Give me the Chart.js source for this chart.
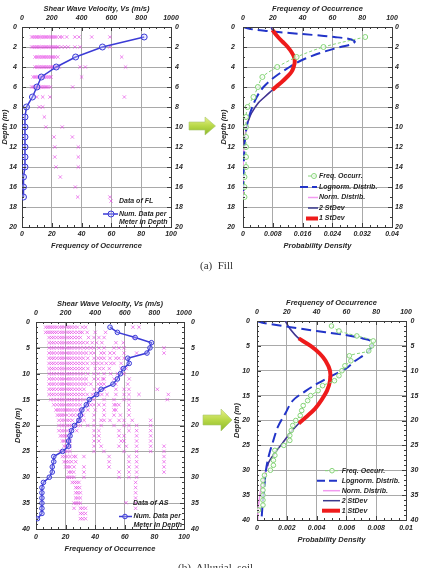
<!DOCTYPE html>
<html>
<head>
<meta charset="utf-8">
<script src="https://cdn.jsdelivr.net/npm/chart.js"></script>
<style>
html,body{margin:0;padding:0;background:#fff;width:421px;height:568px;overflow:hidden;position:relative}
canvas{position:absolute}
.cap{position:absolute;font-family:"Liberation Serif","DejaVu Serif",serif;font-size:11px;line-height:12px;color:#333;white-space:pre}
svg{position:absolute;left:0;top:0}
</style>
</head>
<body>
<canvas id="c1" width="200" height="260" style="left:0;top:0"></canvas>
<canvas id="c2" width="221" height="260" style="left:200px;top:0"></canvas>
<canvas id="c3" width="200" height="278" style="left:0;top:280px"></canvas>
<canvas id="c4" width="221" height="278" style="left:200px;top:280px"></canvas>
<svg width="421" height="568">
  <defs>
    <linearGradient id="ag" x1="0" y1="0" x2="0" y2="1">
      <stop offset="0" stop-color="#e8f08a"/>
      <stop offset="0.5" stop-color="#b8d848"/>
      <stop offset="1" stop-color="#8cb828"/>
    </linearGradient>
  </defs>
  <polygon points="189,122 205,122 205,117 215.5,126 205,135 205,130 189,130" fill="url(#ag)" stroke="#a8c870" stroke-width="0.6"/>
  <polygon points="203,415 221,415 221,409 232,420 221,431 221,425 203,425" fill="url(#ag)" stroke="#a8c870" stroke-width="0.6"/>
</svg>
<div class="cap" style="left:200px;top:259px">(a)  Fill</div>
<div class="cap" style="left:178px;top:561px">(b)  Alluvial  soil</div>
<script>
// ---------------- DATA ----------------
// (a) Fill
const fillDepths = [1,2,3,4,5,6,7,8,9,10,11,12,13,14,15,16,17];
const fillFreq   = [82,54,36,23,13,10,7,3,2,2,2,2,2,2,1,1,1];
const fillVs = [
  [65,77,89,101,113,125,137,149,161,173,185,197,209,221,233,255,270,300,355,383,468,590],
  [65,77,89,101,113,125,137,149,161,173,185,197,209,221,233,243,265,288,310,355,390,590],
  [88,100,112,124,136,148,160,172,184,196,208,222,240,669],
  [88,100,112,124,136,148,160,172,184,196,208,220,233,250,390,425,695],
  [75,87,99,111,123,135,147,159,171,183,195,400],
  [65,77,89,101,113,125,137,149,161,173,190,340],
  [99,139,188,687],
  [116,139],
  [150],
  [160,270],
  [215,338],
  [220,378],
  [220,378],
  [228,378],
  [257],
  [358],
  [374,590]
];
const fillLogDepth = [0,0.2,0.4,0.6,0.8,1.0,1.2,1.45,1.7,2,2.5,3,3.5,4,5,6,7,8,9,10,11,12,14,17];
const fillLogPD    = [0,0.002,0.0065,0.0125,0.019,0.0245,0.0285,0.030,0.0293,0.0262,0.0215,0.0178,0.0148,0.0125,0.0085,0.0055,0.0037,0.0025,0.0016,0.001,0.0006,0.0004,0.0002,0.0001];
const fillNormDepth = [0,0.3,1,1.5,2,2.5,3,3.5,4,4.5,5,5.5,6,6.3,7,7.6,8.6,9.5,10.1,11,12,13,15,17];
const fillNormPD    = [0.0075,0.0079,0.0094,0.0107,0.012,0.013,0.0137,0.0139,0.0136,0.013,0.0118,0.0104,0.0088,0.0079,0.0058,0.0041,0.0023,0.0013,0.0009,0.0005,0.0003,0.0001,0.00003,0];
const fill1SdRange = [0.3, 6.3];
const fill2SdRange = [0, 9.5];

// (b) Alluvial soil
const alluvialDepths = [1,2,3,4,5,6,7,8,9,10,11,12,13,14,15,16,17,18,19,20,21,22,23,24,25,26,27,28,29,30,31,32,33,34,35,36,37,38];
const alluvialFreq   = [50,55,67,78,77,75,62,63,59,57,55,52,44,41,36,34,31,30,29,26,24,23,22,22,18,12,12,11,11,9,5,4,4,4,4,4,4,1];
const alluvialVs = [
  [65,80,95,110,125,140,160,175,190,210,225,240,260,280,313,336,655,696],
  [65,80,95,110,125,140,160,175,190,210,225,240,260,280,300,313,346,400,470],
  [88,105,120,140,160,175,190,210,225,240,260,280,300,355,392,425,460,662],
  [88,105,120,140,160,175,190,210,225,240,260,280,300,320,346,380,410,445,540,590],
  [88,105,120,140,160,175,190,210,225,240,260,280,300,324,346,370,392,425,460,527,560,595,865],
  [88,105,120,140,160,175,190,210,225,240,260,280,300,320,340,370,392,440,460,500,527,595,680,865],
  [88,105,120,140,160,175,190,210,225,240,260,280,300,320,350,392,420,440,460,500,540,560,595],
  [88,105,120,140,160,175,190,210,225,240,260,280,300,320,346,380,400,420,445,475,505,527,575],
  [88,105,120,140,160,175,190,210,225,240,260,280,300,320,350,400,430,455,495,575,610],
  [88,105,120,140,160,175,190,210,225,240,260,280,300,320,350,392,420,460,505,550,595],
  [88,105,120,140,160,175,190,210,225,240,260,280,300,320,340,392,420,450,460,527,630],
  [88,105,120,140,160,175,190,210,225,240,260,280,300,320,340,370,420,440,460,540,620],
  [88,105,120,140,160,175,190,210,225,240,260,280,300,324,392,425,460,540,595,628,820],
  [88,105,120,140,160,175,190,210,225,240,260,280,300,320,346,380,400,420,445,480,540,595,628,696,894],
  [100,120,140,160,175,190,210,225,240,260,280,300,324,392,460,527,595,628,887],
  [120,140,160,175,190,210,225,240,260,280,300,350,370,392,425,460,527,540,560,628],
  [135,150,165,180,195,210,225,240,260,280,300,350,400,460,527,540,628],
  [145,160,175,190,210,235,255,280,300,320,392,460,527,570,628],
  [155,175,190,210,225,245,285,300,325,392,440,460,500,561,595,650,775],
  [155,175,190,210,225,242,275,300,350,392,440,527,595,628,680,775],
  [155,175,190,210,230,275,392,425,561,628,680,775],
  [165,180,195,210,230,392,425,561,595,680,775],
  [178,190,210,230,392,425,575,595,680,775],
  [190,205,230,392,440,561,610,680,775,865],
  [165,180,195,210,230,392,459,595,680,775,865],
  [178,195,210,230,255,268,324,494,628,680,865],
  [190,205,220,240,268,494,628,680,865],
  [200,215,230,257,324,494,628,680,865],
  [222,237,255,324,561,628,680,865],
  [210,225,240,257,324,561,628,680],
  [245,260,275,290,673],
  [268,280,295,673],
  [268,282,300,673],
  [268,282,300,673],
  [257,270,285,300,673],
  [257,300,315,335,673],
  [300,315,335],
  [300,315,335]
];
const alluvialLogDepth = [0,0.3,0.6,1,1.5,2,2.5,3,3.5,4.1,5,6,7,8,9.5,11.2,12.5,14,16,18.6,21.3,24,27,30,33,36,40];
const alluvialLogPD    = [0,0.0003,0.0009,0.0017,0.0028,0.0040,0.0052,0.0063,0.0071,0.0077,0.0077,0.0075,0.0071,0.0066,0.0060,0.0049,0.0041,0.0033,0.0024,0.0019,0.0014,0.0011,0.0008,0.0006,0.0005,0.0004,0.0003];
const alluvialNormDepth = [0,1.5,3.5,5,6.5,8,10,12,14,16,17.6,19.3,20.6,22.6,24.6,26.5,28.3,29.2,31,33,35,37,40];
const alluvialNormPD    = [0.0019,0.0022,0.0028,0.0036,0.0042,0.0046,0.0049,0.0049,0.0047,0.0043,0.0039,0.0033,0.0028,0.0022,0.0017,0.0012,0.0008,0.0007,0.0005,0.0003,0.0002,0.0001,0.00005];
const alluvial1SdRange = [3.5, 20.6];
const alluvial2SdRange = [0, 29.2];

// tick labels
const velTicks = [0,200,400,600,800,1000];
const freqTicks = [0,20,40,60,80,100];
const fillPdTicks = [0,0.008,0.016,0.024,0.032,0.04];
const alluvialPdTicks = [0,0.002,0.004,0.006,0.008,0.01];
const fillDepthTicks = [0,2,4,6,8,10,12,14,16,18,20];
const alluvialDepthTicks = [0,5,10,15,20,25,30,35,40];

// ---------------- STYLE / HELPERS ----------------
const FAM = '"Liberation Sans", Arial, sans-serif';
const tickFont = {family:FAM, size:7, style:'italic', weight:'bold'};
const titleFont = {family:FAM, size:7.5, style:'italic', weight:'bold'};
const TXT = '#262626';
const BLUE = '#3b3bd6';
const MAG = 'rgba(228,60,228,0.6)';
const GREEN = '#86d478';
const LOGN = '#2234c8';
const NORM = '#f29af0';
const SD2 = '#3a3a8e';
const SD1 = '#ee1b1b';

function fmt(v){ return String(parseFloat(Number(v).toPrecision(6))); }

function axis(pos, min, max, ticks, size, pad, grid, title, tpad, reverse){
  return {
    type:'linear', position:pos, min:min, max:max, reverse:!!reverse,
    afterBuildTicks: s => { s.ticks = ticks.map(v => ({value:v})); },
    afterFit: s => { if (pos === 'top' || pos === 'bottom') s.height = size; else s.width = size; },
    grid:{display:grid, drawTicks:false, color:'#a9a9a9', lineWidth:1},
    border:{display:true, color:'#3c3c3c', width:1},
    ticks:{padding:pad, font:tickFont, color:TXT, autoSkip:false, maxRotation:0, minRotation:0, callback:v => fmt(v)},
    title:{display:!!title, text:title || '', font:titleFont, color:TXT, padding:tpad || 0}
  };
}

function pairs(depths, values){ return depths.map((d,i) => ({x:values[i], y:d})); }
function rangePairs(depths, values, r){
  return depths.map((d,i) => ({x:values[i], y:d})).filter(p => p.y >= r[0] - 1e-9 && p.y <= r[1] + 1e-9);
}
function scatterPairs(depths, rows){
  const out = [];
  rows.forEach((row,i) => row.forEach(v => out.push({x:v, y:depths[i]})));
  return out;
}

function drawMark(ctx, p, x, y){
  ctx.save();
  ctx.strokeStyle = p.color; ctx.lineWidth = 1; ctx.setLineDash([]);
  if (p.style === 'circle'){
    ctx.fillStyle = p.fill || 'rgba(255,255,255,0.6)';
    ctx.beginPath(); ctx.arc(x, y, p.r, 0, Math.PI*2); ctx.fill(); ctx.stroke();
  } else {
    const d = p.r * 0.707;
    ctx.beginPath(); ctx.moveTo(x-d,y-d); ctx.lineTo(x+d,y+d); ctx.moveTo(x+d,y-d); ctx.lineTo(x-d,y+d); ctx.stroke();
  }
  ctx.restore();
}

const decor = {
  id:'decor',
  afterDraw(chart){
    const o = chart.options.plugins.decor; if (!o) return;
    const ctx = chart.ctx, a = chart.chartArea, sc = chart.scales;
    ctx.save();
    ctx.strokeStyle = '#3c3c3c'; ctx.lineWidth = 1;
    const edge = (scale, n, horiz, pos0, dir) => {
      const t = scale.ticks.map(k => k.value);
      for (let i = 0; i < t.length; i++){
        const m = i < t.length - 1 ? n : 1;
        for (let k = 0; k < m; k++){
          const v = i < t.length - 1 ? t[i] + (t[i+1]-t[i])*k/n : t[i];
          const p = Math.round(scale.getPixelForValue(v)) + 0.5;
          const len = k === 0 ? 4 : 2;
          ctx.beginPath();
          if (horiz){ ctx.moveTo(p, pos0); ctx.lineTo(p, pos0 + dir*len); }
          else { ctx.moveTo(pos0, p); ctx.lineTo(pos0 + dir*len, p); }
          ctx.stroke();
        }
      }
    };
    edge(sc.x, o.xMinor, true, a.bottom, -1);
    edge(sc.x2, o.xMinor, true, a.top, 1);
    edge(sc.y, o.yMinor, false, a.left, 1);
    edge(sc.y2, o.yMinor, false, a.right, -1);
    for (const it of o.legend){
      if (it.line){
        ctx.save();
        ctx.strokeStyle = it.line.color; ctx.lineWidth = it.line.width;
        ctx.setLineDash(it.line.dash || []);
        ctx.beginPath(); ctx.moveTo(it.x1, it.y); ctx.lineTo(it.x2, it.y); ctx.stroke();
        ctx.restore();
      }
      if (it.point) drawMark(ctx, it.point, it.px, it.y);
      ctx.font = 'italic bold 7px ' + FAM;
      ctx.fillStyle = TXT; ctx.textBaseline = 'middle'; ctx.textAlign = 'left';
      it.text.forEach((s,j) => ctx.fillText(s, it.tx, it.y + j*8.5));
    }
    ctx.restore();
  }
};

function makeChart(id, datasets, scales, decorOpts){
  return new Chart(document.getElementById(id), {
    type:'scatter',
    data:{datasets:datasets},
    options:{
      responsive:false, animation:false, events:[],
      layout:{padding:0},
      scales:scales,
      plugins:{legend:{display:false}, tooltip:{enabled:false}, decor:decorOpts}
    },
    plugins:[decor]
  });
}

function curve(data, color, width, dash, xAxis){
  return {data:data, xAxisID:xAxis || 'x', yAxisID:'y', showLine:true, borderColor:color, borderWidth:width,
          borderDash:dash || [], pointRadius:0, tension:0.35, fill:false};
}

// ---------------- (a) Fill : left ----------------
makeChart('c1', [
  {data:pairs(fillDepths, fillFreq), xAxisID:'x', yAxisID:'y', showLine:true, borderColor:BLUE, borderWidth:1.5,
   pointRadius:3, pointBorderColor:BLUE, pointBackgroundColor:'rgba(200,200,255,0.35)', pointBorderWidth:1, tension:0},
  {data:scatterPairs(fillDepths, fillVs), xAxisID:'x2', yAxisID:'y', showLine:false, pointStyle:'crossRot',
   pointRadius:2.4, pointBorderColor:MAG, pointBackgroundColor:MAG, pointBorderWidth:1}
], {
  x:  axis('bottom', 0, 100, freqTicks, 33, 3, true, 'Frequency of Occurrence', {bottom:9.5}),
  x2: axis('top', 0, 1000, velTicks, 27, 4.5, false, 'Shear Wave Velocity, Vs (m/s)', {top:4}),
  y:  axis('left', 0, 20, fillDepthTicks, 22, 5, true, 'Depth (m)', {top:0.5}, true),
  y2: axis('right', 0, 20, fillDepthTicks, 29, 4, false, '', 0, true)
}, {xMinor:4, yMinor:2, legend:[
  {point:{style:'cross', color:MAG, r:2.4}, px:111, y:201, tx:119, text:['Data of FL']},
  {line:{color:BLUE, width:1.5}, x1:103, x2:118, point:{style:'circle', color:BLUE, r:3, fill:'rgba(200,200,255,0.35)'}, px:111, y:214, tx:119, text:['Num. Data per','Meter in Depth']}
]});

// ---------------- (a) Fill : right ----------------
makeChart('c2', [
  {data:pairs(fillDepths, fillFreq), xAxisID:'x2', yAxisID:'y', showLine:true, borderColor:GREEN, borderWidth:1,
   borderDash:[3,2], pointRadius:2.5, pointBorderColor:GREEN, pointBackgroundColor:'rgba(255,255,255,0.7)', pointBorderWidth:1, tension:0.3},
  curve(rangePairs(fillNormDepth, fillNormPD, fill1SdRange), SD1, 4),
  curve(pairs(fillLogDepth, fillLogPD), LOGN, 2, [10,5]),
  curve(rangePairs(fillNormDepth, fillNormPD, fill2SdRange), SD2, 1.5),
  curve(pairs(fillNormDepth, fillNormPD), NORM, 1.5)
], {
  x:  axis('bottom', 0, 0.04, fillPdTicks, 33, 3, true, 'Probability Density', {bottom:9.5}),
  x2: axis('top', 0, 100, freqTicks, 27, 4.5, false, 'Frequency of Occurrence', {top:4}),
  y:  axis('left', 0, 20, fillDepthTicks, 43, 8, true, 'Depth (m)', {top:19.5}, true),
  y2: axis('right', 0, 20, fillDepthTicks, 29, 3, false, '', 0, true)
}, {xMinor:4, yMinor:2, legend:[
  {line:{color:GREEN, width:1, dash:[3,2]}, x1:108, x2:118, point:{style:'circle', color:GREEN, r:2.5}, px:114, y:176, tx:119, text:['Freq. Occurr.']},
  {line:{color:LOGN, width:2, dash:[8,4]}, x1:100, x2:117, y:187, tx:119, text:['Lognorm. Distrib.']},
  {line:{color:NORM, width:1.5}, x1:108, x2:118, y:197.5, tx:119, text:['Norm. Distrib.']},
  {line:{color:SD2, width:1.5}, x1:108, x2:118, y:208, tx:119, text:['2 StDev']},
  {line:{color:SD1, width:4}, x1:106, x2:118, y:218.5, tx:119, text:['1 StDev']}
]});

// ---------------- (b) Alluvial soil : left ----------------
makeChart('c3', [
  {data:pairs(alluvialDepths, alluvialFreq), xAxisID:'x', yAxisID:'y', showLine:true, borderColor:BLUE, borderWidth:1.5,
   pointRadius:2.3, pointBorderColor:BLUE, pointBackgroundColor:'rgba(200,200,255,0.35)', pointBorderWidth:1, tension:0},
  {data:scatterPairs(alluvialDepths, alluvialVs), xAxisID:'x2', yAxisID:'y', showLine:false, pointStyle:'crossRot',
   pointRadius:2.4, pointBorderColor:MAG, pointBackgroundColor:MAG, pointBorderWidth:1}
], {
  x:  axis('bottom', 0, 100, freqTicks, 29, 4, true, 'Frequency of Occurrence', {bottom:5}),
  x2: axis('top', 0, 1000, velTicks, 42, 4.5, false, 'Shear Wave Velocity, Vs (m/s)', {top:19.5}),
  y:  axis('left', 0, 40, alluvialDepthTicks, 36, 6, true, 'Depth (m)', {top:13.5}, true),
  y2: axis('right', 0, 40, alluvialDepthTicks, 16, 7, false, '', 0, true)
}, {xMinor:4, yMinor:5, legend:[
  {point:{style:'cross', color:MAG, r:2.4}, px:126, y:222.7, tx:133, text:['Data of AS']},
  {line:{color:BLUE, width:1.5}, x1:119, x2:132, point:{style:'circle', color:BLUE, r:2.3, fill:'rgba(200,200,255,0.35)'}, px:125, y:236.5, tx:133.5, text:['Num. Data per','Meter in Depth']}
]});

// ---------------- (b) Alluvial soil : right ----------------
makeChart('c4', [
  {data:pairs(alluvialDepths, alluvialFreq), xAxisID:'x2', yAxisID:'y', showLine:true, borderColor:GREEN, borderWidth:1,
   borderDash:[3,2], pointRadius:2.3, pointBorderColor:GREEN, pointBackgroundColor:'rgba(255,255,255,0.7)', pointBorderWidth:1, tension:0.3},
  curve(rangePairs(alluvialNormDepth, alluvialNormPD, alluvial1SdRange), SD1, 4),
  curve(pairs(alluvialLogDepth, alluvialLogPD), LOGN, 2, [10,5]),
  curve(rangePairs(alluvialNormDepth, alluvialNormPD, alluvial2SdRange), SD2, 1.5),
  curve(pairs(alluvialNormDepth, alluvialNormPD), NORM, 1.5)
], {
  x:  axis('bottom', 0, 0.01, alluvialPdTicks, 38, 4, true, 'Probability Density', {bottom:14}),
  x2: axis('top', 0, 100, freqTicks, 41, 4.5, false, 'Frequency of Occurrence', {top:18.8}),
  y:  axis('left', 0, 40, alluvialDepthTicks, 57, 7, true, 'Depth (m)', {top:32.8}, true),
  y2: axis('right', 0, 40, alluvialDepthTicks, 15, 4.5, false, '', 0, true)
}, {xMinor:4, yMinor:5, legend:[
  {line:{color:GREEN, width:1, dash:[3,2]}, x1:125, x2:140, point:{style:'circle', color:GREEN, r:2.3}, px:132, y:190.7, tx:141.7, text:['Freq. Occurr.']},
  {line:{color:LOGN, width:2, dash:[8,4]}, x1:117, x2:138, y:200.7, tx:141.7, text:['Lognorm. Distrib.']},
  {line:{color:NORM, width:1.5}, x1:123, x2:140, y:210.7, tx:141.7, text:['Norm. Distrib.']},
  {line:{color:SD2, width:1.5}, x1:123, x2:140, y:220.7, tx:141.7, text:['2 StDev']},
  {line:{color:SD1, width:4}, x1:122, x2:140, y:230.7, tx:141.7, text:['1 StDev']}
]});
</script>
</body>
</html>
